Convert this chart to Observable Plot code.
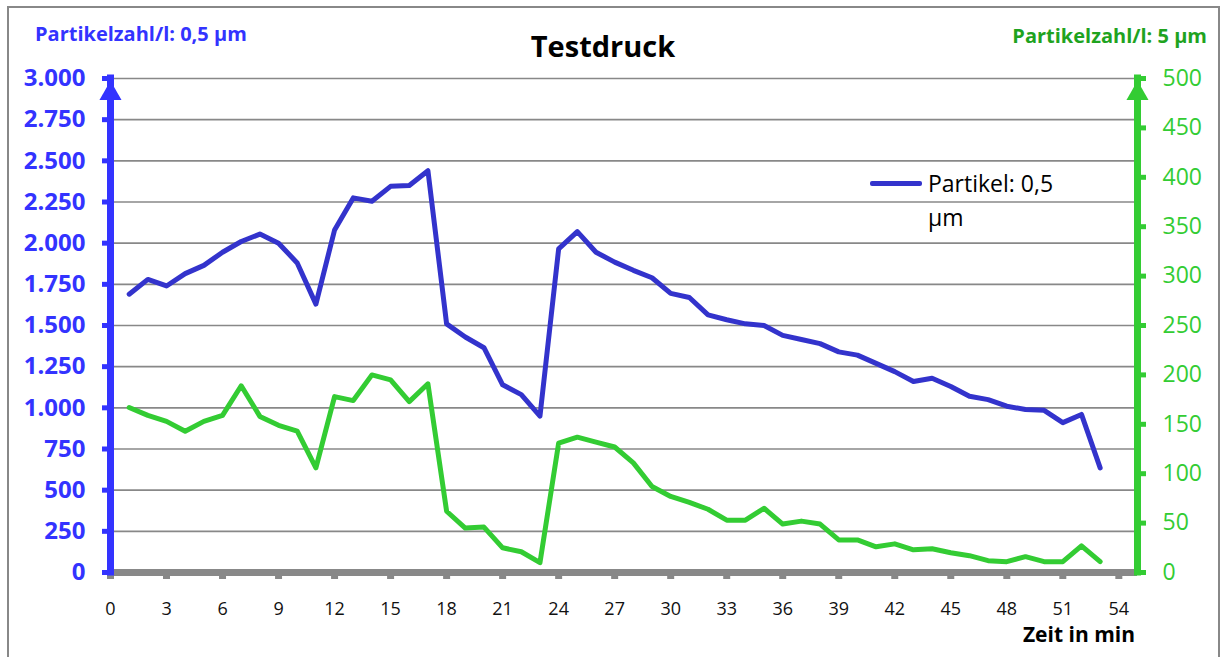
<!DOCTYPE html>
<html>
<head>
<meta charset="utf-8">
<script src="https://cdn.jsdelivr.net/npm/d3@7"></script>
<script src="https://cdn.jsdelivr.net/npm/@observablehq/plot@0.6"></script>
<style>
  html, body { margin: 0; padding: 0; background: #fff; }
  #wrap { position: relative; width: 1226px; height: 657px; overflow: hidden; font-family: "Open Sans", Lato, sans-serif; }
  #frame { position: absolute; left: 7px; top: 6px; width: 1213px; height: 700px; border: 2px solid #888; box-sizing: border-box; }
  .lbl { position: absolute; white-space: nowrap; line-height: 1; }
</style>
</head>
<body>
<div id="wrap">
  <div id="frame"></div>
</div>
<script>
// ---- data ----
const minutes = d3.range(1, 54);
const particles05 = [1690,1780,1740,1815,1865,1945,2010,2055,2000,1880,
                     1630,2080,2275,2255,2345,2350,2440,1510,1430,1365,
                     1140,1080,950,1965,2070,1945,1885,1835,1790,1695,
                     1670,1565,1535,1510,1500,1440,1415,1390,1340,1320,
                     1270,1220,1160,1180,1130,1070,1050,1010,990,985,
                     910,960,635];
const particles5 = [167,159,153,143,153,159,189,158,149,143,
                    106,178,174,200,195,173,191,62,45,46,
                    25,21,10,131,137,132,127,111,87,77,
                    71,64,53,53,65,49,52,49,33,33,
                    26,29,23,24,20,17,12,11,16,11,
                    11,27,11];
const xTicks = d3.range(0, 55, 3);
const leftTicks = d3.range(0, 3001, 250);
const rightTicks = d3.range(0, 501, 50);
const ratio = 3000 / 500;

const blueData = minutes.map((t, i) => ({t, v: particles05[i]}));
const greenData = minutes.map((t, i) => ({t, v: particles5[i]}));

const de = d3.formatLocale({decimal: ",", thousands: ".", grouping: [3], currency: ["", "€"]});
const fmt = de.format(",d");

const BLUE = "#3333ff", BLUE_LINE = "#3333cc", GREEN = "#33cc33", GREEN_T = "#1fa31f", GRAY = "#888888";

const chart = Plot.plot({
  width: 1226,
  height: 657,
  marginLeft: 110,
  marginRight: 89,
  marginTop: 78,
  marginBottom: 85,
  style: {fontFamily: "'Open Sans', Lato, sans-serif", overflow: "visible", background: "transparent"},
  x: {domain: [0, 55]},
  y: {domain: [0, 3000]},
  marks: [
    Plot.ruleY(leftTicks.filter(d => d > 0), {y: d => d, stroke: GRAY, strokeWidth: 1.6}),
    Plot.axisX({ticks: xTicks, label: null, tickSize: 7, strokeWidth: 7, stroke: GRAY, fill: "#111", tickPadding: 23, fontSize: 18, tickFormat: d => d}),
    Plot.axisY({anchor: "left", label: null, ticks: leftTicks, tickSize: 8, strokeWidth: 5, stroke: BLUE, fill: BLUE, tickPadding: 17, fontSize: 24, fontWeight: "bold", tickFormat: fmt}),
    Plot.axisY({anchor: "right", label: null, ticks: rightTicks.map(d => d * ratio), tickSize: 8, strokeWidth: 5, stroke: GREEN, fill: GREEN, tickPadding: 17, fontSize: 23, tickFormat: d => String(d / ratio)}),
    Plot.ruleY([0], {stroke: GRAY, strokeWidth: 7}),
    Plot.ruleX([0], {y1: 0, y2: 3000, stroke: BLUE, strokeWidth: 7, strokeLinecap: "square"}),
    Plot.ruleX([55], {y1: 0, y2: 3000, stroke: GREEN, strokeWidth: 7, strokeLinecap: "square"}),
    Plot.dot([0], {x: 0, y: 3000, symbol: "triangle", r: 8.2, fill: BLUE, stroke: null, dy: 15}),
    Plot.dot([55], {x: 55, y: 3000, symbol: "triangle", r: 8.2, fill: GREEN, stroke: null, dy: 15}),
    Plot.line(greenData, {x: "t", y: d => d.v * ratio, stroke: GREEN, strokeWidth: 5, strokeLinejoin: "round"}),
    Plot.line(blueData, {x: "t", y: "v", stroke: BLUE_LINE, strokeWidth: 5, strokeLinejoin: "round"})
  ]
});

const wrap = document.getElementById("wrap");
chart.style.position = "absolute";
chart.style.left = "0px";
chart.style.top = "0px";
wrap.appendChild(chart);

function label(text, css) {
  const d = document.createElement("div");
  d.className = "lbl";
  d.textContent = text;
  Object.assign(d.style, css);
  wrap.appendChild(d);
  return d;
}

label("Testdruck", {left: "603px", top: "31px", transform: "translateX(-50%)", fontSize: "29px", fontWeight: "bold", color: "#000"});
label("Partikelzahl/l: 0,5 µm", {left: "35px", top: "24px", fontSize: "20px", fontWeight: "bold", color: BLUE});
label("Partikelzahl/l: 5 µm", {right: "19px", top: "26px", fontSize: "20px", fontWeight: "bold", color: GREEN_T});
label("Zeit in min", {right: "91px", top: "624px", fontSize: "21px", fontWeight: "bold", color: "#000"});

// legend
const sw = document.createElement("div");
Object.assign(sw.style, {position: "absolute", left: "870px", top: "181px", width: "52px", height: "5px", background: BLUE_LINE, borderRadius: "2px"});
wrap.appendChild(sw);
const lg = label("", {left: "928px", top: "166px", fontSize: "23px", color: "#000", lineHeight: "34px", whiteSpace: "normal", width: "160px"});
lg.innerHTML = "Partikel: 0,5<br>µm";
</script>
</body>
</html>
